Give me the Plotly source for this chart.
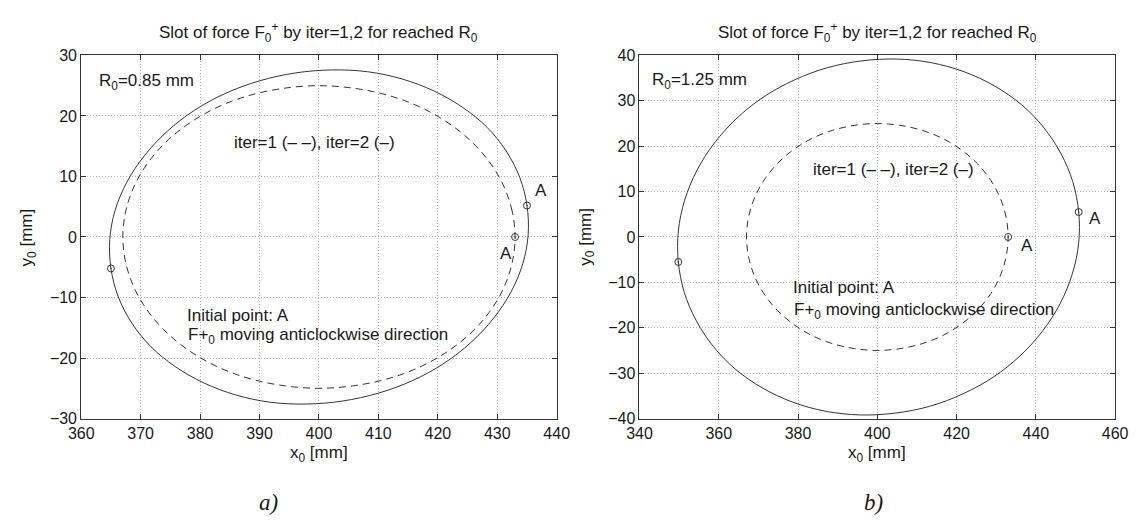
import plotly.graph_objects as go

# ---- data (mm) ----------------------------------------------------------
# iter=1 slot (same in both panels), listed anticlockwise starting at A
iter1_x = [433.0, 432.5, 431.0, 428.6, 425.3, 421.2, 416.5, 411.3, 405.7,
           400.0, 394.3, 388.7, 383.5, 378.8, 374.7, 371.4, 369.0, 367.5,
           367.0, 367.5, 369.0, 371.4, 374.7, 378.8, 383.5, 388.7, 394.3,
           400.0, 405.7, 411.3, 416.5, 421.2, 425.3, 428.6, 431.0, 432.5, 433.0]
iter1_y = [0.0, 4.3, 8.6, 12.5, 16.1, 19.2, 21.7, 23.5, 24.6,
           25.0, 24.6, 23.5, 21.7, 19.2, 16.1, 12.5, 8.6, 4.3,
           0.0, -4.3, -8.6, -12.5, -16.1, -19.2, -21.7, -23.5, -24.6,
           -25.0, -24.6, -23.5, -21.7, -19.2, -16.1, -12.5, -8.6, -4.3, 0.0]

# iter=2 slot, R0 = 0.85 mm
a_iter2_x = [435.0, 433.8, 431.5, 428.3, 424.2, 419.4, 414.0, 408.2, 402.1,
             396.0, 390.0, 384.2, 379.0, 374.4, 370.6, 367.7, 365.7, 364.8,
             365.0, 366.2, 368.5, 371.7, 375.8, 380.6, 386.0, 391.8, 397.9,
             404.0, 410.0, 415.8, 421.0, 425.6, 429.4, 432.3, 434.3, 435.2, 435.0]
a_iter2_y = [5.2, 9.8, 14.2, 18.1, 21.4, 24.1, 26.1, 27.3, 27.6,
             27.1, 25.8, 23.7, 20.9, 17.4, 13.4, 9.1, 4.4, -0.4,
             -5.2, -9.8, -14.2, -18.1, -21.4, -24.1, -26.1, -27.3, -27.6,
             -27.1, -25.8, -23.7, -20.9, -17.4, -13.4, -9.1, -4.4, 0.4, 5.2]

# iter=2 slot, R0 = 1.25 mm
b_iter2_x = [450.8, 449.3, 446.3, 441.9, 436.3, 429.5, 421.9, 413.6, 404.9,
             396.1, 387.4, 379.1, 371.4, 364.6, 358.9, 354.5, 351.4, 349.8,
             349.8, 351.3, 354.3, 358.7, 364.3, 371.1, 378.7, 387.0, 395.7,
             404.5, 413.2, 421.5, 429.2, 436.0, 441.7, 446.1, 449.2, 450.8, 450.8]
b_iter2_y = [5.5, 12.2, 18.4, 24.2, 29.2, 33.3, 36.4, 38.4, 39.2,
             38.8, 37.3, 34.6, 30.9, 26.2, 20.7, 14.7, 8.1, 1.3,
             -5.5, -12.2, -18.4, -24.2, -29.2, -33.3, -36.4, -38.4, -39.2,
             -38.8, -37.3, -34.6, -30.9, -26.2, -20.7, -14.7, -8.1, -1.3, 5.5]

# marked points (initial point A of each iteration and the opposite point)
a_mark_x = [435.0, 365.0, 433.0]
a_mark_y = [5.2, -5.2, 0.0]
b_mark_x = [450.8, 349.8, 433.0]
b_mark_y = [5.5, -5.5, 0.0]

x_ranges = [(360, 440, 10), (340, 460, 20)]
y_ranges = [(-30, 30, 10), (-40, 40, 10)]
r0_labels = ["R<sub>0</sub>=0.85 mm", "R<sub>0</sub>=1.25 mm"]
panel_labels = ["a)", "b)"]

# ---- styling --------------------------------------------------------------
W, H = 1148, 525
FONT = "Liberation Sans, Arial, Helvetica, sans-serif"
INK = "#363636"
TXT = "#1a1a1a"

# plot-area pixel boxes (left, right, top, bottom)
boxes = [(69.8, 556.3, 49.0, 424.3), (641.0, 1127.7, 49.0, 424.3)]


def px_x(v):
    return v / W


def px_y(v):
    return 1 - v / H


fig = go.Figure()

panels = [
    (a_iter2_x, a_iter2_y, a_mark_x, a_mark_y),
    (b_iter2_x, b_iter2_y, b_mark_x, b_mark_y),
]

for i, (sx, sy, mx, my) in enumerate(panels):
    xa = "x" if i == 0 else "x2"
    ya = "y" if i == 0 else "y2"
    fig.add_trace(go.Scatter(
        x=iter1_x, y=iter1_y, xaxis=xa, yaxis=ya, mode="lines",
        line=dict(color=INK, width=1, dash="7px,5px", shape="spline", smoothing=1.0),
        hoverinfo="skip", showlegend=False))
    fig.add_trace(go.Scatter(
        x=sx, y=sy, xaxis=xa, yaxis=ya, mode="lines",
        line=dict(color=INK, width=1, shape="spline", smoothing=1.0),
        hoverinfo="skip", showlegend=False))
    fig.add_trace(go.Scatter(
        x=mx, y=my, xaxis=xa, yaxis=ya, mode="markers",
        marker=dict(symbol="circle-open-dot", size=7, color=INK, line=dict(color=INK, width=1)),
        hoverinfo="skip", showlegend=False))

axis_common = dict(
    showgrid=True, gridcolor="#b4b4b4", griddash="1px,2px", gridwidth=1,
    showline=True, linecolor=INK, linewidth=1, mirror="ticks",
    ticks="inside", ticklen=5, tickcolor=INK, tickwidth=1,
    tickfont=dict(family=FONT, size=16, color=TXT),
    zeroline=False, fixedrange=True,
)

layout_axes = {}
for i in range(2):
    l, r, t, b = boxes[i]
    x0, x1, dx = x_ranges[i]
    y0, y1, dy = y_ranges[i]
    xkey = "xaxis" if i == 0 else "xaxis2"
    ykey = "yaxis" if i == 0 else "yaxis2"
    layout_axes[xkey] = dict(axis_common, domain=[px_x(l), px_x(r)], range=[x0, x1],
                             tick0=x0, dtick=dx, anchor="y" if i == 0 else "y2")
    layout_axes[ykey] = dict(axis_common, domain=[px_y(b), px_y(t)], range=[y0, y1],
                             tick0=y0, dtick=dy, anchor="x" if i == 0 else "x2")

annotations = []


def paper_text(text, x, y, size=17, family=FONT, angle=0, xanchor="center", yanchor="middle"):
    annotations.append(dict(text=text, x=px_x(x), y=px_y(y), xref="paper", yref="paper",
                            showarrow=False, textangle=angle, xanchor=xanchor, yanchor=yanchor,
                            font=dict(family=family, size=size, color=TXT)))


def data_text(text, x, y, panel, xanchor="left", size=17):
    annotations.append(dict(text=text, x=x, y=y,
                            xref="x" if panel == 0 else "x2", yref="y" if panel == 0 else "y2",
                            showarrow=False, xanchor=xanchor, yanchor="middle",
                            font=dict(family=FONT, size=size, color=TXT)))


title = "Slot of force F<sub>0</sub><sup>+</sup> by iter=1,2 for reached R<sub>0</sub>"
for i in range(2):
    l, r, t, b = boxes[i]
    cx = (l + r) / 2
    paper_text(title, cx, 25, size=17)
    paper_text("x<sub>0</sub> [mm]", cx, 461, size=17)
    paper_text("y<sub>0</sub> [mm]", l - 54, (t + b) / 2, size=17, angle=-90)
    paper_text("<i>" + panel_labels[i] + "</i>", 261 if i == 0 else 880, 511,
               size=23, family="Liberation Serif, Times New Roman, serif")

# panel a) texts
data_text(r0_labels[0], 362.6, 25.6, 0)
data_text("iter=1 (\u2013 \u2013), iter=2 (\u2013)", 399.3, 15.6, 0, xanchor="center")
data_text("A", 437.4, 7.7, 0, xanchor="center")
data_text("A", 431.4, -2.7, 0, xanchor="center")
data_text("Initial point: A", 377.4, -12.9, 0)
data_text("F+<sub>0</sub> moving anticlockwise direction", 377.7, -16.4, 0)

# panel b) texts
data_text(r0_labels[1], 342.7, 34.4, 1)
data_text("iter=1 (\u2013 \u2013), iter=2 (\u2013)", 404.1, 14.8, 1, xanchor="center")
data_text("A", 455.0, 4.1, 1, xanchor="center")
data_text("A", 437.8, -1.8, 1, xanchor="center")
data_text("Initial point: A", 378.2, -11.1, 1)
data_text("F+<sub>0</sub> moving anticlockwise direction", 378.6, -16.4, 1)

fig.update_layout(
    width=W, height=H,
    margin=dict(l=0, r=0, t=0, b=0),
    paper_bgcolor="white", plot_bgcolor="white",
    showlegend=False,
    font=dict(family=FONT, color=TXT),
    annotations=annotations,
    **layout_axes,
)

fig.write_html("out.html", config={"displayModeBar": False})
